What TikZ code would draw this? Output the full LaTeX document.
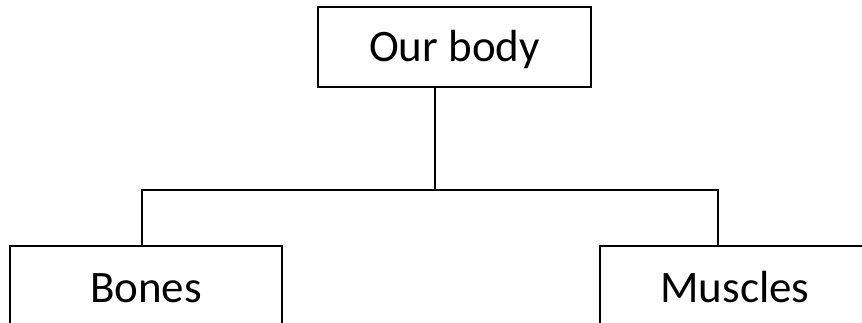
\documentclass[tikz,border=0pt]{standalone}
\usepackage{fontspec}
\setmainfont{Carlito}
\begin{document}
\begin{tikzpicture}[x=1pt,y=1pt,
  box/.style={draw=black, line width=1.6pt, inner sep=0pt, text height=29pt, text depth=0pt,
    font=\fontsize{45}{54}\selectfont},
  conn/.style={draw=black, line width=1.6pt}]
\useasboundingbox (0,0) rectangle (862,323);
\clip (0,0) rectangle (862,323);
\node[box, minimum width=273pt, minimum height=80pt] (top) at (454.5,276) {Our body};
\node[box, minimum width=272pt, minimum height=85pt] (bones) at (146,34.5) {Bones};
\node[box, minimum width=270pt, minimum height=85pt] (muscles) at (735,34.5) {Muscles};
\coordinate (j) at (435,133);
\draw[conn] ([xshift=-19.5pt]top.south) -- (j);
\draw[conn] ([xshift=-4.3pt]bones.north) |- (j) -| ([xshift=-17pt]muscles.north);
\end{tikzpicture}
\end{document}
